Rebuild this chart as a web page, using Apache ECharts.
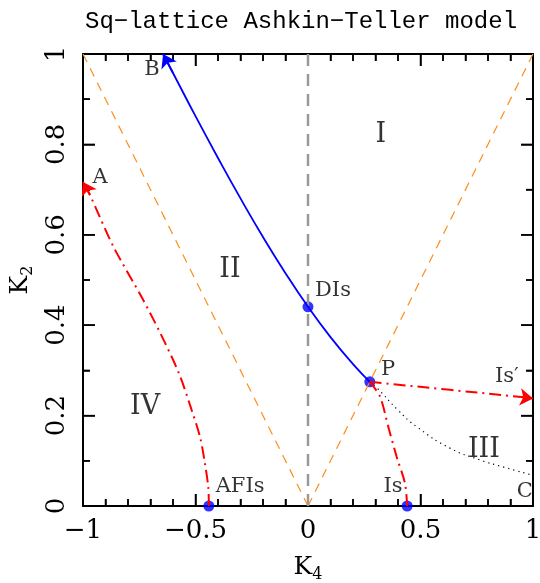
<!DOCTYPE html>
<html>
<head>
<meta charset="utf-8">
<script src="https://cdn.jsdelivr.net/npm/echarts@6/dist/echarts.min.js"></script>
<style>html,body{margin:0;padding:0;background:#fff}#c{width:540px;height:583px}</style>
</head>
<body>
<div id="c"></div>
<script>
// ---- data ----
const titleText = 'Sq\u2212lattice Ashkin\u2212Teller model';
const xRange = [-1, 1];
const yRange = [0, 1];
const xMajorTicks = [-1, -0.5, 0, 0.5, 1];
const xMinorTicks = [-0.9, -0.8, -0.7, -0.6, -0.4, -0.3, -0.2, -0.1, 0.1, 0.2, 0.3, 0.4, 0.6, 0.7, 0.8, 0.9];
const yMajorTicks = [0, 0.2, 0.4, 0.6, 0.8, 1];
const yMinorTicks = [0.1, 0.3, 0.5, 0.7, 0.9];
// orange dashed diagonals K2 = |K4|
const orangeLeft = [[-1, 1], [0, 0]];
const orangeRight = [[0, 0], [1, 1]];
// gray dashed K4 = 0
const grayLine = [[0, 0], [0, 1]];
// blue self-dual line from P to B
const selfDual = [[0.2747, 0.2747], [0.2, 0.314], [0.1, 0.3736], [0, 0.4407], [-0.1, 0.515], [-0.2, 0.595],
  [-0.3, 0.6805], [-0.4, 0.770], [-0.5, 0.8625], [-0.6, 0.958], [-0.644, 1.0]];
// red dash-dot from AFIs to A
const afisCurve = [[-0.4407, 0], [-0.443, 0.04], [-0.458, 0.094], [-0.480, 0.153], [-0.517, 0.212], [-0.574, 0.294],
  [-0.656, 0.382], [-0.737, 0.460], [-0.865, 0.574], [-0.969, 0.688], [-1.0, 0.717]];
// red dash-dot from Is to P
const isCurve = [[0.4407, 0], [0.431, 0.05], [0.394, 0.109], [0.357, 0.175], [0.32, 0.242], [0.2747, 0.2747]];
// red dash-dot from P to Is'
const isPrime = [[0.2747, 0.2747], [0.631, 0.257], [0.95, 0.241], [1.0, 0.238]];
// black dotted from P to C
const dottedPC = [[0.2747, 0.2747], [0.307, 0.261], [0.40, 0.212], [0.484, 0.175], [0.631, 0.128], [0.764, 0.102], [0.87, 0.086], [1.0, 0.068]];
// blue points: DIs, P, AFIs, Is
const specialPts = [[0, 0.4407], [0.2747, 0.2747], [-0.4407, 0], [0.4407, 0]];
// region labels [text, K4, K2]
const regionLabels = [['I', 0.324, 0.821], ['II', -0.347, 0.522], ['III', 0.782, 0.124], ['IV', -0.724, 0.219]];
// point labels [text, K4, K2]
const pointLabels = [['DIs', 0.111, 0.476], ['P', 0.356, 0.301], ['Is\u2032', 0.884, 0.287], ['A', -0.924, 0.726],
  ['B', -0.693, 0.965], ['C', 0.964, 0.031], ['AFIs', -0.302, 0.042], ['Is', 0.378, 0.042]];

// ---- chart ----
const serif = 'DejaVu Serif';
const RED = '#ff0000', BLUE = '#0000ff', ORANGE = '#ff8c1a';
const dashDot = [12, 5, 2, 5];
const lastSeg = a => [a[a.length - 2], a[a.length - 1]];
const tickStyle = { color: '#000', width: 1.5 };

function axisCommon(extra) {
  return Object.assign({
    type: 'value',
    splitLine: { show: false },
    axisLine: { show: true, onZero: false, lineStyle: { color: '#000', width: 2 } },
    axisTick: { show: true, inside: true, length: 12, lineStyle: tickStyle },
    minorSplitLine: { show: false }
  }, extra);
}
const fmtNum = v => (v < 0 ? '\u2212' + String(-v) : String(v));

const lineSeries = (data, color, width, type, extra) => Object.assign({
  type: 'line', data: data, symbol: 'none',
  lineStyle: { color: color, width: width, type: type }
}, extra || {});

const arrowSeries = (seg, color) => ({
  type: 'lines', coordinateSystem: 'cartesian2d',
  symbol: ['none', 'arrow'], symbolSize: 13,
  lineStyle: { color: color, width: 1.8, opacity: 1 },
  data: [{ coords: seg }]
});

const labelSeries = (arr, size) => ({
  type: 'scatter', symbolSize: 1, clip: false,
  itemStyle: { color: 'transparent' },
  label: { show: true, position: 'inside', formatter: p => p.data[2], color: '#000', fontFamily: serif, fontSize: size },
  data: arr.map(d => [d[1], d[2], d[0]])
});

// frame ticks on all four sides, placed through the axes' scales
const tickData = [].concat(
  xMajorTicks.map(v => [v, 0, 1]), xMinorTicks.map(v => [v, 0, 0]),
  yMajorTicks.map(v => [v, 1, 1]), yMinorTicks.map(v => [v, 1, 0]));
const tickSeries = {
  type: 'custom', data: tickData, encode: { x: 0, y: 1 },
  renderItem: function (params, api) {
    const v = api.value(0), isY = api.value(1) === 1, len = api.value(2) === 1 ? 12 : 7;
    const st = { stroke: '#000', lineWidth: 1.5 };
    if (!isY) {
      const b = api.coord([v, yRange[0]]), t = api.coord([v, yRange[1]]);
      return { type: 'group', children: [
        { type: 'line', shape: { x1: b[0], y1: b[1], x2: b[0], y2: b[1] - len }, style: st },
        { type: 'line', shape: { x1: t[0], y1: t[1], x2: t[0], y2: t[1] + len }, style: st }] };
    }
    const l = api.coord([xRange[0], v]), r = api.coord([xRange[1], v]);
    return { type: 'group', children: [
      { type: 'line', shape: { x1: l[0], y1: l[1], x2: l[0] + len, y2: l[1] }, style: st },
      { type: 'line', shape: { x1: r[0], y1: r[1], x2: r[0] - len, y2: r[1] }, style: st }] };
  }
};

const nameRich = { k: { fontFamily: serif, fontSize: 25, color: '#000' }, s: { fontFamily: serif, fontSize: 16, color: '#000', padding: [16, 0, 0, 0] } };

const chart = echarts.init(document.getElementById('c'));
chart.setOption({
  animation: false,
  title: { text: titleText, left: 80, top: 5, textStyle: { fontFamily: 'Liberation Mono', fontSize: 24, fontWeight: 'normal', color: '#000' } },
  grid: { left: 83, right: 7, top: 54, bottom: 77, containLabel: false, outerBoundsMode: 'none' },
  xAxis: [
    axisCommon({ position: 'bottom', min: xRange[0], max: xRange[1], interval: 0.5,
      minorTick: { show: true, splitNumber: 5, length: 7, lineStyle: tickStyle },
      axisLabel: { margin: 12, formatter: fmtNum, fontFamily: serif, fontSize: 26, color: '#000' },
      name: '{k|K}{s|4}', nameLocation: 'middle', nameGap: 45, nameTextStyle: { rich: nameRich } }),
    axisCommon({ position: 'top', min: xRange[0], max: xRange[1], interval: 0.5,
      minorTick: { show: true, splitNumber: 5, length: 7, lineStyle: tickStyle },
      axisLabel: { show: false } })
  ],
  yAxis: [
    axisCommon({ position: 'left', min: yRange[0], max: yRange[1], interval: 0.2,
      minorTick: { show: true, splitNumber: 2, length: 7, lineStyle: tickStyle },
      axisLabel: { margin: 13, rotate: 90, formatter: fmtNum, fontFamily: serif, fontSize: 26, color: '#000' },
      name: '{k|K}{s|2}', nameLocation: 'middle', nameGap: 39, nameRotate: 90, nameTextStyle: { rich: nameRich } }),
    axisCommon({ position: 'right', min: yRange[0], max: yRange[1], interval: 0.2,
      minorTick: { show: true, splitNumber: 2, length: 7, lineStyle: tickStyle },
      axisLabel: { show: false } })
  ],
  series: [
    tickSeries,
    lineSeries(orangeLeft, ORANGE, 1.2, [9, 7]),
    lineSeries(orangeRight, ORANGE, 1.2, [9, 7]),
    lineSeries(grayLine, '#999999', 2.5, [12, 8]),
    lineSeries(dottedPC, '#000', 1.2, [1.2, 4], { smooth: true }),
    lineSeries(selfDual, BLUE, 1.8, 'solid', { smooth: true }),
    lineSeries(afisCurve, RED, 2, dashDot, { smooth: 0.3 }),
    lineSeries(isCurve, RED, 2, dashDot, { smooth: 0.3 }),
    lineSeries(isPrime, RED, 2, dashDot, { smooth: true }),
    arrowSeries(lastSeg(selfDual), BLUE),
    arrowSeries(lastSeg(afisCurve), RED),
    arrowSeries(lastSeg(isPrime), RED),
    { type: 'scatter', data: specialPts, symbol: 'circle', symbolSize: 11, clip: false, itemStyle: { color: BLUE } },
    labelSeries(regionLabels, 27),
    labelSeries(pointLabels, 21)
  ]
});
</script>
</body>
</html>
